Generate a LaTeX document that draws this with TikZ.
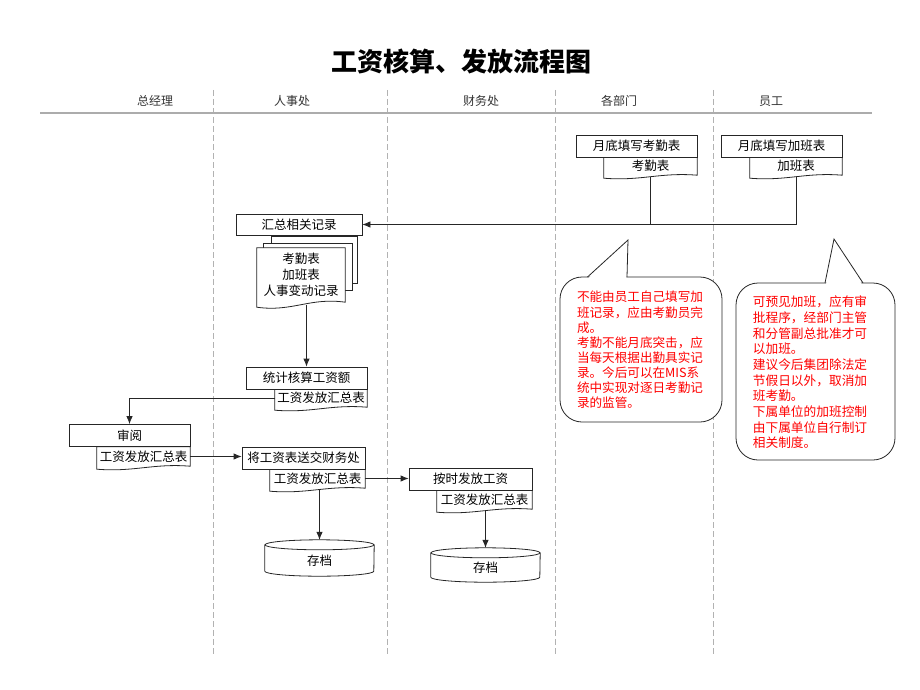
\documentclass[tikz,border=0pt]{standalone}
\usepackage{fontspec}
\setmainfont{Noto Sans CJK SC}
\usetikzlibrary{arrows.meta,calc}
\pgfdeclarelayer{bg}
\pgfsetlayers{bg,main}
\newcommand\docshape[2][3]{%
  \begin{pgfonlayer}{bg}
  \draw[conn, fill=white] (#2.north west) -- (#2.north east) -- (#2.south east)
    .. controls ($(#2.south east)!0.4!(#2.south west)+(0,-#1)$) and ($(#2.south east)!0.6!(#2.south west)+(0,2*#1)$) .. ($(#2.south west)+(0,#1)$) -- cycle;
  \end{pgfonlayer}}
\newcommand\cylshape[1]{%
  \draw[conn] ($(#1.north)+(0,5)$) ellipse [x radius=54.5pt, y radius=5pt];
  \draw[conn] ($(#1.north west)+(0,5)$) -- ($(#1.south west)+(0,-5)$)
    arc[start angle=180, end angle=360, x radius=54.5pt, y radius=5pt] -- ($(#1.north east)+(0,5)$);}
\begin{document}
\begin{tikzpicture}[x=1pt,y=-1pt,
  lane/.style={gray!60, dash pattern=on 6pt off 3pt, line width=0.7pt},
  hdr/.style={font=\fontsize{12}{14}\selectfont, text=black!80},
  conn/.style={draw=black!85, line width=0.8pt},
  arr/.style={conn, -{Latex[length=8pt,width=6.5pt]}},
  proc/.style={conn, fill=white, minimum height=22pt, inner sep=0pt, font=\fontsize{12.5}{14}\selectfont},
  docu/.style={inner sep=0pt, minimum height=18pt, font=\fontsize{12.5}{14}\selectfont},
  cyl/.style={inner sep=0pt, minimum width=109pt, text height=17pt, text depth=2.5pt, font=\fontsize{12.5}{14}\selectfont},
  note/.style={text=red, align=left, inner sep=0pt},
  calloutline/.style={conn, line join=miter}
]
\useasboundingbox (0,0) rectangle (920,690);

% title
\node (title) at (461,62) {\fontsize{26}{30}\selectfont\bfseries 工资核算、发放流程图};

% lanes
\begin{pgfonlayer}{bg}
\foreach \lx in {213,387,555,713} \draw[lane] (\lx,90) -- (\lx,655);
\end{pgfonlayer}
\draw[gray!65, line width=1.8pt] (40,113) -- (872,113);
\node[hdr] (h1) at (155,101) {总经理};
\node[hdr] (h2) at (292,101) {人事处};
\node[hdr] (h3) at (481,101) {财务处};
\node[hdr] (h4) at (619,101) {各部门};
\node[hdr] (h5) at (771,101) {员工};

% top boxes
\node[proc, minimum width=121pt] (b1) at (636.5,146) {月底填写考勤表};
\node[docu, minimum width=93pt] (d1) at (650.5,166) {考勤表};
\docshape{d1}
\node[proc, minimum width=121pt] (b2) at (781.5,146) {月底填写加班表};
\node[docu, minimum width=92pt] (d2) at (796,166) {加班表};
\docshape{d2}

% collect
\node[proc, minimum width=126pt, minimum height=21pt] (b3) at (299,224.5) {汇总相关记录};
\begin{pgfonlayer}{bg}
\draw[conn, fill=white] (271,236) rectangle (357,283);
\draw[conn, fill=white] (263,243) rectangle (352,290);
\end{pgfonlayer}
\node[docu, minimum width=88pt, minimum height=54pt, align=center, font=\fontsize{12.5}{16}\selectfont] (md) at (301,275) {考勤表\\加班表\\人事变动记录};
\docshape[5]{md}

\draw[arr] ([yshift=-1.5pt]d2.south) |- (b3.east);
\draw[conn] ([yshift=-1.5pt]d1.south) -- (d1.south |- b3.east);

% compute
\node[proc, minimum width=121pt] (b4) at (306.5,378) {统计核算工资额};
\node[docu, minimum width=92pt] (d4) at (321,398) {工资发放汇总表};
\docshape{d4}
\draw[arr] ([yshift=-3pt]b4.north |- md.south) -- (b4.north);

% review
\node[proc, minimum width=121pt] (b5) at (129.5,435.5) {审阅};
\node[docu, minimum width=93pt, minimum height=19pt] (d5) at (143.5,456.5) {工资发放汇总表};
\docshape{d5}
\draw[arr] (d4.west) -| (b5.north);

% send to finance
\node[proc, minimum width=123pt] (b6) at (303.5,458) {将工资表送交财务处};
\node[docu, minimum width=95pt, minimum height=19pt] (d6) at (317.5,478.5) {工资发放汇总表};
\docshape{d6}
\draw[arr] (d5.east) -- (d5.east -| b6.west);

% pay
\node[proc, minimum width=123pt] (b7) at (470.5,479) {按时发放工资};
\node[docu, minimum width=95pt, minimum height=19pt] (d7) at (484.5,499.5) {工资发放汇总表};
\docshape{d7}
\draw[arr] (d6.east) -- (d6.east -| b7.west);

% archives
\node[cyl, minimum height=36pt] (c1) at (319.5,558) {存档};
\cylshape{c1}
\node[cyl, minimum height=34pt] (c2) at (485.5,565) {存档};
\cylshape{c2}
\draw[arr] ([yshift=-1.5pt]c1.north |- d6.south) -- (c1.north);
\draw[arr] ([yshift=-1.5pt]c2.north |- d7.south) -- (c2.north);

% callouts
\draw[conn, fill=white, rounded corners=22pt] (560,277) rectangle (722,422);
\fill[white] (588,278.6) -- (628,240) -- (626.4,278.6) -- cycle;
\draw[calloutline] (587.5,277) -- (628,240) -- (627,277);
\node[note, font=\fontsize{12.6}{15.1}\selectfont] (n1) at (640,350) {不能由员工自己填写加\\班记录，应由考勤员完\\成。\\考勤不能月底突击，应\\当每天根据出勤具实记\\录。今后可以在MIS系\\统中实现对逐日考勤记\\录的监管。};

\draw[conn, fill=white, rounded corners=22pt] (736,283) rectangle (895,460);
\fill[white] (826,284.6) -- (834,239) -- (862,284.6) -- cycle;
\draw[calloutline] (825,283) -- (834,239) -- (863,283);
\node[note, font=\fontsize{12.7}{15.67}\selectfont] (n2) at (810,372.5) {可预见加班，应有审\\批程序，经部门主管\\和分管副总批准才可\\以加班。\\建议今后集团除法定\\节假日以外，取消加\\班考勤。\\下属单位的加班控制\\由下属单位自行制订\\相关制度。};
\end{tikzpicture}
\end{document}
